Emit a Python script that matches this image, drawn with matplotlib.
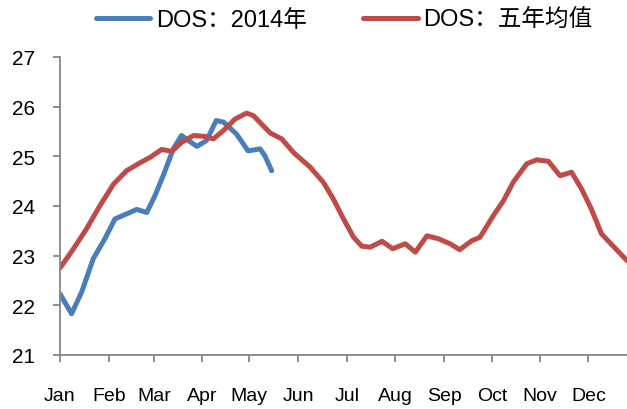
import matplotlib.pyplot as plt

plt.rcParams['font.family'] = ['Liberation Sans', 'Noto Sans CJK SC']

# x positions in months since Jan 1
x_2014 = [0.0, 0.24, 0.45, 0.69, 0.93, 1.14, 1.38, 1.59, 1.80, 1.97, 2.14,
          2.35, 2.52, 2.66, 2.84, 3.04, 3.24, 3.39, 3.66, 3.90, 4.15, 4.25, 4.39]
dos_2014 = [22.23, 21.83, 22.27, 22.94, 23.34, 23.74, 23.84, 23.93, 23.87, 24.21, 24.61,
            25.15, 25.42, 25.32, 25.20, 25.32, 25.72, 25.69, 25.45, 25.11, 25.15, 25.01, 24.71]

x_avg = [0.0, 0.28, 0.55, 0.83, 1.11, 1.38, 1.66, 1.87, 2.11, 2.32, 2.52, 2.77,
         3.01, 3.18, 3.39, 3.63, 3.87, 4.01, 4.18, 4.36, 4.60, 4.84, 5.05, 5.19,
         5.46, 5.67, 5.88, 6.09, 6.26, 6.43, 6.68, 6.90, 7.16, 7.37, 7.61, 7.85,
         8.09, 8.29, 8.54, 8.71, 8.99, 9.20, 9.40, 9.68, 9.89, 10.13, 10.37,
         10.61, 10.82, 11.02, 11.23, 11.76]
dos_avg = [22.75, 23.14, 23.54, 24.01, 24.44, 24.71, 24.87, 24.98, 25.14, 25.10, 25.28, 25.42,
           25.40, 25.35, 25.52, 25.75, 25.87, 25.82, 25.65, 25.47, 25.35, 25.08, 24.90, 24.78,
           24.48, 24.14, 23.74, 23.37, 23.19, 23.17, 23.29, 23.14, 23.24, 23.07, 23.40, 23.34,
           23.24, 23.12, 23.30, 23.37, 23.81, 24.11, 24.48, 24.85, 24.93, 24.90, 24.61,
           24.68, 24.34, 23.94, 23.44, 22.90]

months = ['Jan', 'Feb', 'Mar', 'Apr', 'May', 'Jun', 'Jul', 'Aug', 'Sep', 'Oct', 'Nov', 'Dec']
month_pos = [0, 1.02, 1.95, 2.95, 3.92, 4.94, 5.96, 6.95, 7.97, 8.97, 9.96, 10.96]

fig = plt.figure(figsize=(6.27, 4.10), dpi=100)
ax = fig.add_axes([60 / 627, 54 / 410, 567 / 627, 298 / 410])

ax.plot(x_2014, dos_2014, color='#4A7EBB', lw=3.6, solid_joinstyle='round',
        solid_capstyle='round', label='DOS：2014年')
ax.plot(x_avg, dos_avg, color='#BE4B48', lw=3.6, solid_joinstyle='round',
        solid_capstyle='round', label='DOS：五年均值')

ax.set_xlim(0, 11.76)
ax.set_ylim(21, 27)
ax.set_yticks(range(21, 28))
ax.set_xticks(month_pos)
ax.set_xticklabels(months)

for s in ['top', 'right']:
    ax.spines[s].set_visible(False)
for s in ['left', 'bottom']:
    ax.spines[s].set_color('#868686')
    ax.spines[s].set_linewidth(1.3)
ax.tick_params(axis='both', colors='#868686', width=1.3, length=5, labelcolor='black')
ax.tick_params(axis='y', labelsize=15, pad=13)
ax.tick_params(axis='x', labelsize=14, pad=18)

fig.legend(loc='center', bbox_to_anchor=(0.549, 0.949), ncol=2, frameon=False,
           fontsize=17, handlelength=2.3, handletextpad=0.25, columnspacing=2.4,
           borderpad=0, borderaxespad=0)

fig.savefig('out.png', dpi=100)
